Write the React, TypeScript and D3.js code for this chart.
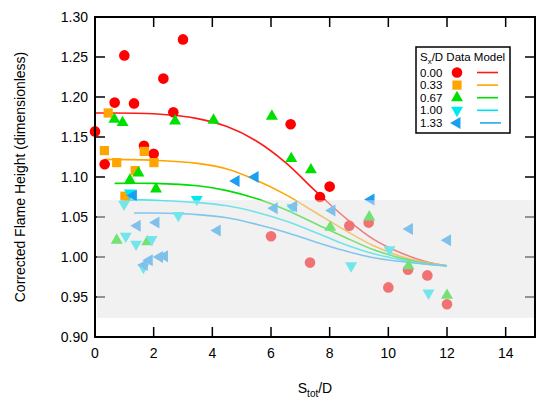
import * as d3 from "d3"

// Sx/D groups
const groups = ["0.00", "0.33", "0.67", "1.00", "1.33"]
const markerColors = ["#ff0000", "#ffa500", "#00e000", "#00e8f0", "#1a9ff0"]
const lineColors = ["#ff1a1a", "#ffa500", "#00dd00", "#00e0f0", "#20a8f8"]
const symbols = ["circle", "square", "up", "down", "left"]

// measured points [S_tot/D, corrected flame height]
const data000 = [
  [0, 1.157], [0.33, 1.116], [0.67, 1.193], [1.0, 1.252], [1.33, 1.192], [1.67, 1.139],
  [2.0, 1.129], [2.33, 1.223], [2.67, 1.181], [3.0, 1.272], [6.0, 1.026], [6.67, 1.166],
  [7.33, 0.993], [7.67, 1.075], [8.0, 1.088], [8.67, 1.039], [9.33, 1.043], [10.0, 0.962],
  [10.67, 0.984], [11.33, 0.977], [12.0, 0.941],
]
const data033 = [
  [0.45, 1.18], [0.32, 1.133], [0.74, 1.118], [1.68, 1.132], [2.01, 1.118], [1.37, 1.108], [1.02, 1.076],
]
const data067 = [
  [0.66, 1.172], [0.94, 1.168], [2.73, 1.17], [1.48, 1.105], [1.19, 1.096], [2.08, 1.085],
  [0.74, 1.021], [1.78, 1.019], [4.04, 1.171], [6.03, 1.176], [6.69, 1.123], [7.36, 1.109],
  [8.02, 1.037], [9.35, 1.05], [10.69, 0.989], [12.0, 0.952],
]
const data100 = [
  [0.99, 1.066], [1.19, 1.08], [3.47, 1.072], [2.84, 1.052], [1.05, 1.026], [1.4, 1.016],
  [1.93, 1.022], [1.65, 0.987], [6.73, 1.062], [8.73, 0.989], [10.04, 1.009], [11.37, 0.955],
]
const data133 = [
  [1.31, 1.077], [1.44, 1.039], [2.08, 1.043], [1.68, 0.99], [1.85, 0.996], [2.2, 1.0],
  [2.37, 1.001], [4.81, 1.095], [5.46, 1.1], [4.17, 1.033], [6.11, 1.061], [6.77, 1.063],
  [8.08, 1.058], [9.41, 1.072], [10.72, 1.035], [12.02, 1.021],
]

// model curves
const model000 = [
  [0, 1.18], [2, 1.179], [3.5, 1.173], [4.5, 1.163], [5.5, 1.145], [6.5, 1.118],
  [7.5, 1.083], [8.5, 1.05], [9.5, 1.022], [10.5, 1.004], [11.3, 0.994], [12, 0.989],
]
const model033 = [
  [0.33, 1.122], [2, 1.121], [3.5, 1.117], [4.5, 1.11], [5.5, 1.096], [6.5, 1.078],
  [7.5, 1.056], [8.5, 1.034], [9.5, 1.014], [10.5, 1.0], [11.3, 0.993], [12, 0.989],
]
const model067 = [
  [0.67, 1.092], [2, 1.092], [3.5, 1.089], [4.5, 1.083], [5.5, 1.073], [6.5, 1.059],
  [7.5, 1.042], [8.5, 1.025], [9.5, 1.009], [10.5, 0.998], [11.3, 0.992], [12, 0.989],
]
const model100 = [
  [1, 1.071], [2, 1.071], [3.5, 1.068], [4.5, 1.064], [5.5, 1.056], [6.5, 1.045],
  [7.5, 1.031], [8.5, 1.016], [9.5, 1.004], [10.5, 0.996], [11.3, 0.991], [12, 0.989],
]
const model133 = [
  [1.33, 1.055], [2, 1.055], [3.5, 1.053], [4.5, 1.049], [5.5, 1.041], [6.5, 1.031],
  [7.5, 1.019], [8.5, 1.008], [9.5, 0.999], [10.5, 0.994], [11.3, 0.991], [12, 0.989],
]

const allData = [data000, data033, data067, data100, data133]
const allModels = [model000, model033, model067, model100, model133]

const xTicks = [0, 2, 4, 6, 8, 10, 12, 14]
const yTicks = [0.9, 0.95, 1.0, 1.05, 1.1, 1.15, 1.2, 1.25, 1.3]
const band = [1.071, 0.924]

const W = 550
const H = 408
const left = 95
const right = 535
const top = 17
const bottom = 337

const x = d3.scaleLinear().domain([0, 15]).range([left, right])
const y = d3.scaleLinear().domain([0.9, 1.3]).range([bottom, top])

const line = d3
  .line<number[]>()
  .x((d) => x(d[0]))
  .y((d) => y(d[1]))
  .curve(d3.curveCatmullRom.alpha(0.5))

function Marker({ kind, cx, cy, color }: { kind: string; cx: number; cy: number; color: string }) {
  if (kind === "circle") return <circle cx={cx} cy={cy} r={5.3} fill={color} />
  if (kind === "square") return <path d={d3.symbol(d3.symbolSquare, 85)()!} transform={`translate(${cx},${cy})`} fill={color} />
  const rot = kind === "up" ? 0 : kind === "down" ? 180 : -90
  return (
    <path
      d={d3.symbol(d3.symbolTriangle, 62)()!}
      transform={`translate(${cx},${cy}) rotate(${rot})`}
      fill={color}
    />
  )
}

export default function App() {
  const font = "'Liberation Sans', Arial, sans-serif"
  return (
    <svg
      width={W}
      height={H}
      style={{ position: "absolute", left: 0, top: 0, background: "#fff" }}
      fontFamily={font}
    >
      {/* ticks (inside) */}
      <g stroke="#000" strokeWidth={1.5}>
        {xTicks.map((t) => (
          <g key={"xt" + t}>
            <line x1={x(t)} x2={x(t)} y1={bottom} y2={bottom - 10} />
            <line x1={x(t)} x2={x(t)} y1={top} y2={top + 10} />
          </g>
        ))}
        {yTicks.map((t) => (
          <g key={"yt" + t}>
            <line x1={left} x2={left + 10} y1={y(t)} y2={y(t)} />
            <line x1={right} x2={right - 10} y1={y(t)} y2={y(t)} />
          </g>
        ))}
      </g>

      {/* model curves */}
      {allModels.map((m, i) => (
        <path key={"m" + i} d={line(m)!} fill="none" stroke={lineColors[i]} strokeWidth={1.6} />
      ))}

      {/* data points */}
      {allData.map((s, i) =>
        s.map((d, j) => (
          <Marker key={`p${i}-${j}`} kind={symbols[i]} cx={x(d[0])} cy={y(d[1])} color={markerColors[i]} />
        )),
      )}

      {/* shaded band */}
      <rect
        x={left + 2}
        y={y(band[0])}
        width={right - left - 2}
        height={y(band[1]) - y(band[0])}
        fill="#e4e4e4"
        opacity={0.5}
      />

      {/* frame */}
      <rect x={left} y={top} width={right - left} height={bottom - top} fill="none" stroke="#000" strokeWidth={2} />

      {/* tick labels */}
      {xTicks.map((t) => (
        <text key={"xl" + t} x={x(t)} y={358} fontSize={14} textAnchor="middle">
          {t}
        </text>
      ))}
      {yTicks.map((t) => (
        <text key={"yl" + t} x={88} y={y(t) + 5} fontSize={14} textAnchor="end">
          {t.toFixed(2)}
        </text>
      ))}

      {/* axis titles */}
      <text x={315} y={393} fontSize={14} textAnchor="middle">
        S<tspan fontSize={10} dy={4}>tot</tspan>
        <tspan dy={-4}>/D</tspan>
      </text>
      <text transform={`translate(25,${(top + bottom) / 2}) rotate(-90)`} fontSize={14} textAnchor="middle">
        Corrected Flame Height (dimensionless)
      </text>

      {/* legend */}
      <g>
        <rect x={416} y={47} width={94} height={86} fill="#fff" stroke="#000" strokeWidth={1.5} />
        <text x={420} y={61} fontSize={11.5}>
          S<tspan fontSize={8} dy={3}>x</tspan>
          <tspan dy={-3}>/D Data Model</tspan>
        </text>
        {groups.map((g, i) => {
          const cy = 72.5 + i * 12.6
          return (
            <g key={"lg" + g}>
              <text x={420} y={cy + 4} fontSize={11.5}>
                {g}
              </text>
              <Marker kind={symbols[i]} cx={457} cy={cy} color={markerColors[i]} />
              <line
                x1={i === 4 ? 480 : 477}
                x2={i === 4 ? 501 : 498}
                y1={cy}
                y2={cy}
                stroke={lineColors[i]}
                strokeWidth={1.6}
              />
            </g>
          )
        })}
      </g>
    </svg>
  )
}
